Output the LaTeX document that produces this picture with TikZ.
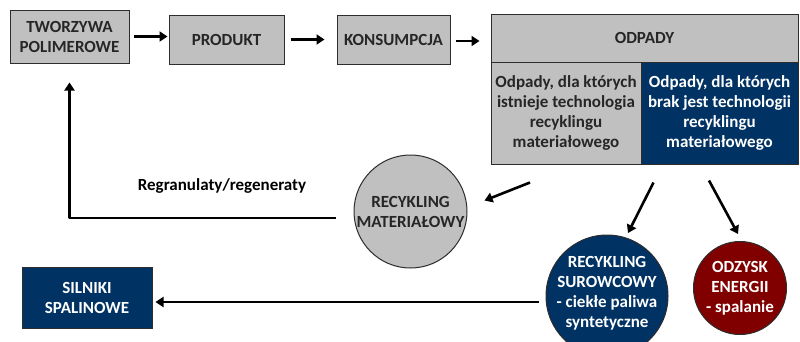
\documentclass[tikz,border=0pt]{standalone}
\usepackage{fontspec}
\setmainfont{Carlito}
\usetikzlibrary{arrows.meta}
\definecolor{boxgray}{RGB}{192,192,192}
\definecolor{navyfill}{RGB}{0,50,100}
\definecolor{redfill}{RGB}{128,0,0}
\definecolor{edgecol}{RGB}{45,45,45}
\begin{document}
\begin{tikzpicture}[x=1pt,y=-1pt,
  txt/.style={font=\bfseries\fontsize{17}{20}\selectfont, align=center},
  base/.style={txt, inner sep=0pt, draw=edgecol, line width=1pt},
  graybox/.style={base, fill=boxgray, text=black!85},
  navybox/.style={base, fill=navyfill, text=white},
  redbox/.style={base, fill=redfill, text=white},
  arr/.style={line width=2.6pt, -{Triangle[length=8pt,width=10pt]}, black}]
\useasboundingbox (0,0) rectangle (800,341);
% top row
\node[graybox, minimum width=119, minimum height=53] (tw) at (69.5,36.5) {TWORZYWA\\POLIMEROWE};
\node[graybox, minimum width=115, minimum height=49] (prod) at (226.5,39.5) {PRODUKT};
\node[graybox, minimum width=113, minimum height=49] (kons) at (393.5,39.5) {KONSUMPCJA};
\node[graybox, minimum width=307, minimum height=48] (odp) at (644.5,38) {ODPADY};
\node[graybox, minimum width=150, minimum height=102] (lft) at (566,113) {Odpady, dla których\\istnieje technologia\\recyklingu\\materiałowego};
\node[navybox, minimum width=157, minimum height=102] (rgt) at (719.5,113) {Odpady, dla których\\brak jest technologii\\recyklingu\\materiałowego};
% circles
\node[graybox, circle, minimum size=113, label={[txt, text=black!85]center:RECYKLING\\MATERIAŁOWY}] (mat) at (410.5,211.5) {};
\node[navybox, circle, minimum size=122, label={[txt, text=white, yshift=3pt]center:RECYKLING\\SUROWCOWY\\- ciekłe paliwa\\syntetyczne}] (sur) at (607,296) {};
\node[redbox, circle, minimum size=93, label={[txt, text=white]center:ODZYSK\\ENERGII\\- spalanie}] (odz) at (740,288) {};
% bottom left box
\node[navybox, minimum width=130, minimum height=61] (sil) at (87,297.5) {SILNIKI\\SPALINOWE};
% label
\node[txt] (reg) at (222,186) {Regranulaty/regeneraty};
% arrows
\draw[arr] ([xshift=4pt]tw.east) -- ([xshift=-1pt]tw.east -| prod.west);
\draw[arr] ([xshift=6pt]prod.east) -- ([xshift=-12pt]prod.east -| kons.west);
\draw[arr] ([shift={(5,1.5)}]kons.east) -- ([shift={(-11,1.5)}]kons.east -| odp.west);
\draw[arr] ([shift={(-36,18)}]lft.south) -- ([shift={(74,-11)}]mat.center);
\draw[arr] ([shift={(-66,18)}]rgt.south) -- ([shift={(21,-63)}]sur.center);
\draw[arr] ([shift={(-10.5,16)}]rgt.south) -- ([shift={(-2,-54)}]odz.center);
\draw[line width=2.6pt, -{Triangle[length=8pt,width=10pt]}, line join=round] ([shift={(-75,6.5)}]mat.center) -| ([yshift=-19pt]tw.south);
\draw[arr] ([shift={(-68,6)}]sur.center) -- ([shift={(3,4.5)}]sil.east);
\end{tikzpicture}
\end{document}
